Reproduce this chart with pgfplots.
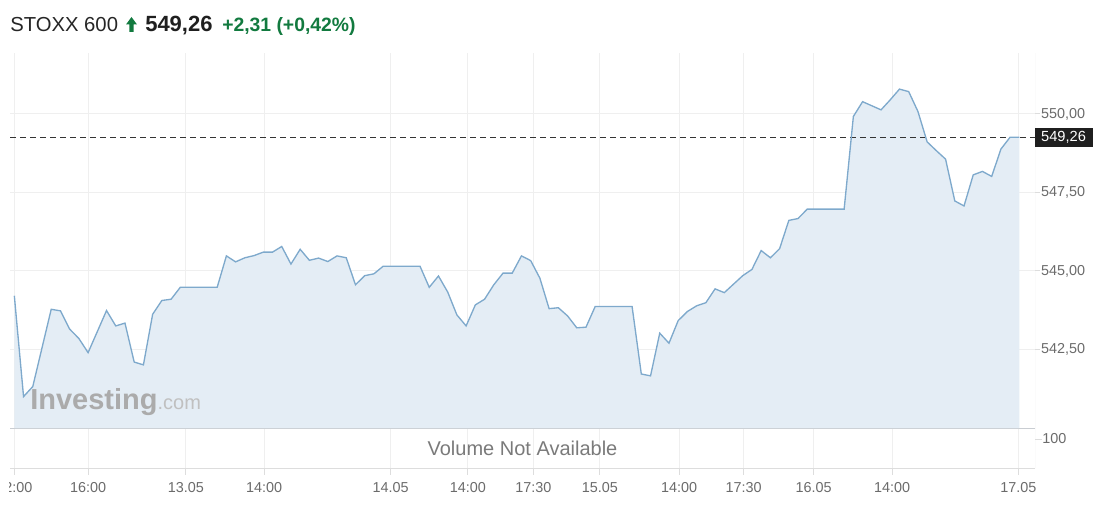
\documentclass[border=0pt]{standalone}
\usepackage{pgfplots}
\usepackage{pgfplotstable}
\pgfplotsset{compat=1.18}
\usepackage{fontspec}
\setmainfont{Liberation Sans}
\definecolor{linec}{HTML}{7EA9CC}
\definecolor{fillc}{HTML}{E4EDF5}
\definecolor{gridc}{HTML}{EFEFEF}
\definecolor{labc}{HTML}{6B6B6B}
\definecolor{sepc}{HTML}{C9CDD2}
\definecolor{axc}{HTML}{DDDDDD}
\definecolor{upgreen}{HTML}{127A3F}
\definecolor{wmark}{HTML}{ABABAB}
\definecolor{wmark2}{HTML}{C0C0C0}
\pgfplotstableread{
idx val
0 544.21
1 541.00
2 541.32
4 543.78
5 543.73
6 543.15
7 542.85
8 542.40
10 543.74
11 543.25
12 543.34
13 542.10
14 542.01
15 543.62
16 544.06
17 544.10
18 544.48
22 544.48
23 545.48
24 545.29
25 545.42
26 545.49
27 545.60
28 545.60
29 545.78
30 545.22
31 545.69
32 545.34
33 545.41
34 545.30
35 545.48
36 545.42
37 544.56
38 544.85
39 544.91
40 545.15
44 545.15
45 544.48
46 544.84
47 544.33
48 543.60
49 543.25
50 543.92
51 544.10
52 544.56
53 544.93
54 544.93
55 545.48
56 545.33
57 544.77
58 543.80
59 543.83
60 543.57
61 543.19
62 543.21
63 543.87
67 543.87
68 541.72
69 541.66
70 543.02
71 542.70
72 543.42
73 543.71
74 543.89
75 543.99
76 544.43
77 544.31
78 544.58
79 544.85
80 545.05
81 545.65
82 545.42
83 545.71
84 546.61
85 546.67
86 546.97
90 546.97
91 549.92
92 550.39
93 550.26
94 550.13
95 550.45
96 550.79
97 550.71
98 550.08
99 549.11
100 548.83
101 548.56
102 547.23
103 547.07
104 548.06
105 548.17
106 548.01
107 548.88
108 549.26
109 549.26
}\prices
\begin{document}
\begin{tikzpicture}
\path[use as bounding box] (0pt,0pt) rectangle (839.25pt,381pt);
\begin{scope}
\clip (7.2pt,0pt) rectangle (839.25pt,381pt);
% volume panel
\begin{axis}[at={(7.5pt,30pt)}, anchor=south west, scale only axis,
  width=768.75pt, height=30pt,
  xmin=-0.47, xmax=110.7, ymin=0, ymax=138,
  axis line style={draw=none},
  xtick={0,8,18.6,27.1,40.8,49.2,56.3,63.5,72.1,79.1,86.7,95.2,108.9},
  xticklabels={12:00,16:00,13.05,14:00,14.05,14:00,17:30,15.05,14:00,17:30,16.05,14:00,17.05},
  xmajorgrids, grid style={gridc, line width=0.75pt},
  xtick pos=bottom, ytick pos=right, yticklabel pos=right,
  tick align=outside, major tick length=5pt,
  tick style={axc, line width=0.75pt},
  ytick={100}, yticklabels={100},
  ticklabel style={font=\fontsize{10.8pt}{12pt}\selectfont, text=labc},
  xticklabel style={anchor=base, yshift=-13.5pt},
  yticklabel style={anchor=west, xshift=-3pt},
]
\draw[sepc, line width=0.9pt] (rel axis cs:0,1) -- (rel axis cs:1,1);
\draw[axc, line width=0.75pt] (rel axis cs:0,0) -- (rel axis cs:1,0);
\draw[axc, line width=0.75pt] (rel axis cs:1,0) -- (rel axis cs:1,1);
\node[text=labc!90, font=\fontsize{15pt}{16pt}\selectfont] at (rel axis cs:0.5,0.5) {Volume Not Available};
\end{axis}
% price panel
\begin{axis}[at={(7.5pt,60pt)}, anchor=south west, scale only axis,
  width=768.75pt, height=281.25pt,
  xmin=-0.47, xmax=110.7, ymin=540, ymax=551.94,
  axis line style={draw=none},
  xtick={0,8,18.6,27.1,40.8,49.2,56.3,63.5,72.1,79.1,86.7,95.2,108.9},
  xticklabels={}, xtick style={draw=none},
  xmajorgrids, ymajorgrids, grid style={gridc, line width=0.75pt},
  ytick={542.5,545,547.5,550},
  yticklabels={{542,50},{545,00},{547,50},{550,00}},
  ytick pos=right, yticklabel pos=right,
  tick align=outside, major tick length=4pt,
  ytick style={axc, line width=0.75pt},
  ticklabel style={font=\fontsize{10.8pt}{12pt}\selectfont, text=labc},
  yticklabel style={anchor=west, xshift=-3pt},
]
\addplot[fill=fillc, draw=none] table[x=idx,y=val]{\prices} \closedcycle;
\node[anchor=base west, inner sep=0, text=wmark, font=\bfseries\fontsize{21.75pt}{22pt}\selectfont] at (axis cs:1.7,540.58) {Investing\textcolor{wmark2}{\mdseries\fontsize{15pt}{15pt}\selectfont .com}};
\addplot[black!80, dash pattern=on 4.5pt off 3pt, line width=0.75pt] coordinates {(-0.47,549.26) (110.7,549.26)};
\addplot[linec, line width=1pt] table[x=idx,y=val]{\prices};
\draw[axc, line width=0.75pt] (rel axis cs:1,0) -- (rel axis cs:1,1);
\coordinate (pb) at (axis cs:110.7,549.26);
\end{axis}
\end{scope}
\node[anchor=west, fill=black!88, text=white, inner sep=0, minimum width=43.5pt, minimum height=14pt, font=\fontsize{11pt}{12pt}\selectfont] at ([xshift=-0.5pt]pb) {549,26};
% title
\begin{scope}[x=0.75pt,y=0.75pt]
\node[anchor=base west, inner sep=0, text=black!85, font=\fontsize{15.2pt}{16pt}\selectfont] at (10,476) {STOXX 600};
\fill[upgreen] (126,483.5) -- (131.5,491) -- (137,483.5) -- (133.6,483.5) -- (133.6,476) -- (129.4,476) -- (129.4,483.5) -- cycle;
\node[anchor=base west, inner sep=0, text=black!88, font=\bfseries\fontsize{16.5pt}{17pt}\selectfont] at (145,476) {549,26};
\node[anchor=base west, inner sep=0, text=upgreen, font=\bfseries\fontsize{14.5pt}{15pt}\selectfont] at (222,476) {+2,31 (+0,42\%)};
\end{scope}
\end{tikzpicture}
\end{document}
